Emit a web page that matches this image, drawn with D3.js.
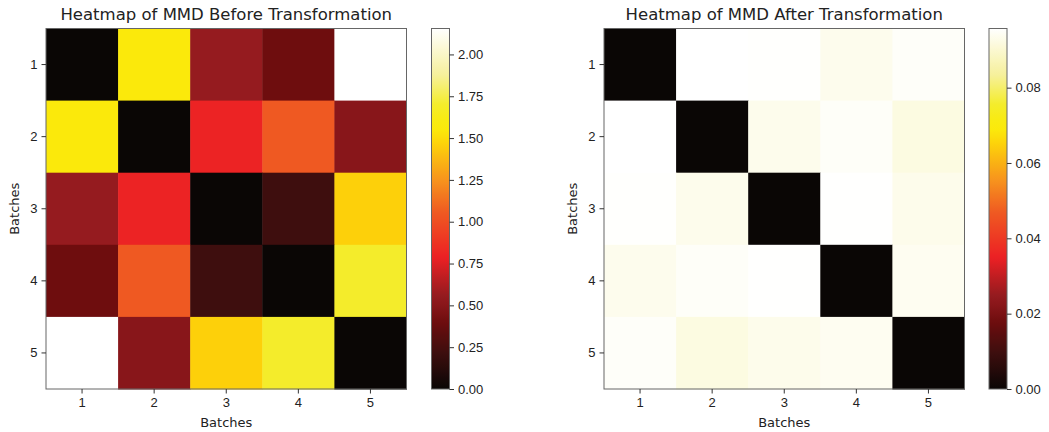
<!DOCTYPE html>
<html>
<head>
<meta charset="utf-8">
<script src="https://cdn.jsdelivr.net/npm/d3@7"></script>
<style>
  body { margin: 0; background: #fff; }
  svg { display: block; font-family: "DejaVu Sans", sans-serif; }
  .tick text { fill: #222; }
</style>
</head>
<body>
<div id="vis"></div>
<script>
const FRAME_WIDTH = 1049;
const FRAME_HEIGHT = 432;

// data
const BATCHES = [1, 2, 3, 4, 5];
const MMD_BEFORE = [
  [0.00, 1.55, 0.56, 0.40, 2.155],
  [1.55, 0.00, 0.80, 1.05, 0.50],
  [0.56, 0.80, 0.00, 0.22, 1.46],
  [0.40, 1.05, 0.22, 0.00, 1.70],
  [2.155, 0.50, 1.46, 1.70, 0.00]
];
const MMD_AFTER = [
  [0.0000, 0.0957, 0.0954, 0.0935, 0.0950],
  [0.0957, 0.0000, 0.0933, 0.0948, 0.0920],
  [0.0954, 0.0933, 0.0000, 0.0956, 0.0932],
  [0.0935, 0.0948, 0.0956, 0.0000, 0.0940],
  [0.0950, 0.0920, 0.0932, 0.0940, 0.0000]
];
const TICKS_BEFORE = [0.00, 0.25, 0.50, 0.75, 1.00, 1.25, 1.50, 1.75, 2.00];
const TICKS_AFTER = [0.00, 0.02, 0.04, 0.06, 0.08];
const TITLES = ["Heatmap of MMD Before Transformation", "Heatmap of MMD After Transformation"];

// "hot"-like colormap, as it looks in the picture (fraction of max -> colour)
const CMAP_T = [0, 0.10, 0.186, 0.232, 0.26, 0.365, 0.49, 0.58, 0.68, 0.72, 0.746, 0.79, 0.87, 1];
const CMAP_C = ["#0a0605", "#3d0e0e", "#6e0d0e", "#88161a", "#951b1f", "#ec2024", "#ef5a22",
                "#f7941d", "#fdd20a", "#fbe90b", "#f8eb12", "#f4ec2c", "#f6f09a", "#ffffff"];

const svg = d3.select("#vis").append("svg")
  .attr("width", FRAME_WIDTH)
  .attr("height", FRAME_HEIGHT);

function draw_panel(idx, matrix, ticks, left, cbLeft) {
  const top = 28.5, size = 360.5;
  const vmax = d3.max(matrix.flat());

  const X_SCALE = d3.scaleBand().domain(BATCHES).range([0, size]);
  const Y_SCALE = d3.scaleBand().domain(BATCHES).range([0, size]);
  const COLOR = d3.scaleLinear()
    .domain(CMAP_T.map(t => t * vmax))
    .range(CMAP_C)
    .interpolate(d3.interpolateRgb)
    .clamp(true);

  const g = svg.append("g").attr("transform", `translate(${left},${top})`);

  const cells = [];
  matrix.forEach((row, i) => row.forEach((v, j) => cells.push({r: BATCHES[i], c: BATCHES[j], v: v})));

  g.selectAll("rect.cell")
    .data(cells)
    .enter()
    .append("rect")
      .attr("class", "cell")
      .attr("x", d => X_SCALE(d.c))
      .attr("y", d => Y_SCALE(d.r))
      .attr("width", X_SCALE.bandwidth() + 0.5)
      .attr("height", Y_SCALE.bandwidth() + 0.5)
      .attr("fill", d => COLOR(d.v));

  g.append("rect")
    .attr("width", size).attr("height", size)
    .attr("fill", "none").attr("stroke", "#666").attr("stroke-width", 1);

  // axes
  const xAxis = g.append("g")
    .attr("transform", `translate(0,${size})`)
    .call(d3.axisBottom(X_SCALE).tickSize(4.5).tickPadding(4))
    .attr("font-size", "13px");
  const yAxis = g.append("g")
    .call(d3.axisLeft(Y_SCALE).tickSize(4.5).tickPadding(4))
    .attr("font-size", "13px");
  [xAxis, yAxis].forEach(a => {
    a.select(".domain").remove();
    a.selectAll(".tick line").attr("stroke", "#333");
  });

  g.append("text")
    .attr("x", size / 2).attr("y", size + 38)
    .attr("text-anchor", "middle").attr("font-size", "13px").attr("fill", "#222")
    .text("Batches");
  g.append("text")
    .attr("transform", `translate(${-27},${size / 2}) rotate(-90)`)
    .attr("text-anchor", "middle").attr("font-size", "13px").attr("fill", "#222")
    .text("Batches");
  g.append("text")
    .attr("x", size / 2).attr("y", -9)
    .attr("text-anchor", "middle").attr("font-size", "16.5px").attr("fill", "#222")
    .text(TITLES[idx]);

  // colorbar
  const cbW = 18;
  const CB_SCALE = d3.scaleLinear().domain([0, vmax]).range([size, 0]);
  const grad = svg.append("defs").append("linearGradient")
    .attr("id", "cb" + idx)
    .attr("x1", 0).attr("y1", 1).attr("x2", 0).attr("y2", 0);
  d3.range(0, 1.0001, 0.01).forEach(t => {
    grad.append("stop").attr("offset", t).attr("stop-color", COLOR(t * vmax));
  });
  const cb = svg.append("g").attr("transform", `translate(${cbLeft},${top})`);
  cb.append("rect")
    .attr("width", cbW).attr("height", size)
    .attr("fill", `url(#cb${idx})`)
    .attr("stroke", "#666").attr("stroke-width", 1);
  const cbAxis = cb.append("g")
    .attr("transform", `translate(${cbW},0)`)
    .call(d3.axisRight(CB_SCALE).tickValues(ticks).tickFormat(d3.format(".2f")).tickSize(4.5).tickPadding(4))
    .attr("font-size", "13px");
  cbAxis.select(".domain").remove();
  cbAxis.selectAll(".tick line").attr("stroke", "#333");
}

draw_panel(0, MMD_BEFORE, TICKS_BEFORE, 46, 431.5);
draw_panel(1, MMD_AFTER, TICKS_AFTER, 604, 989);
</script>
</body>
</html>
